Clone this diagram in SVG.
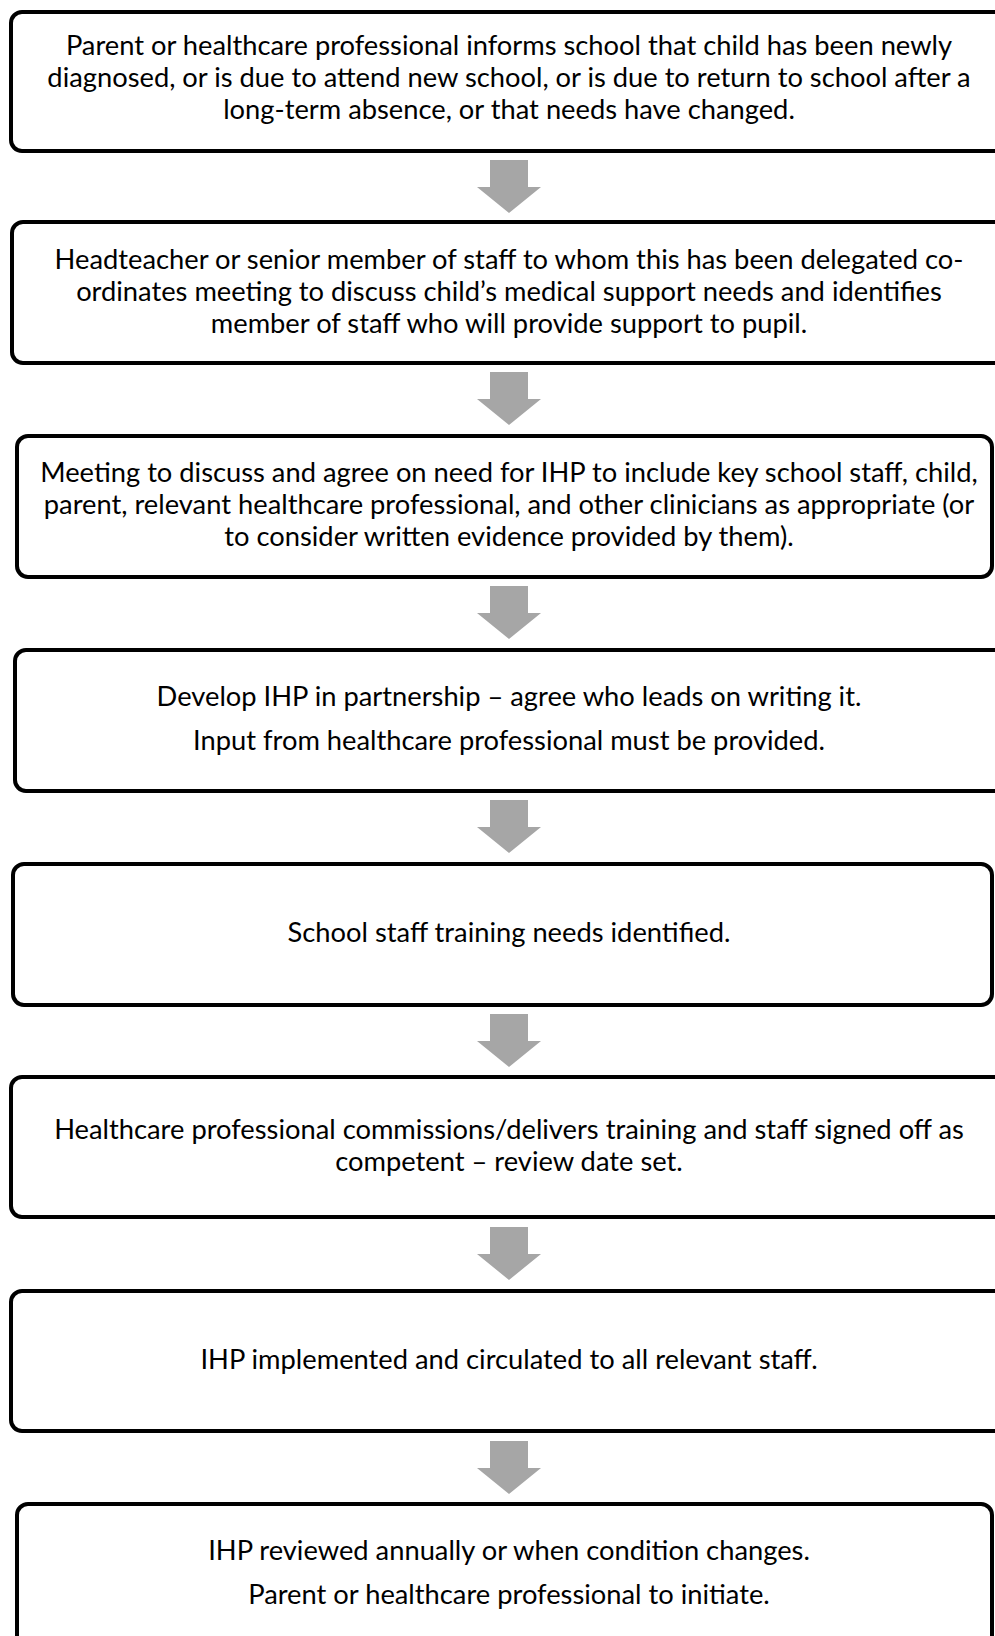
<svg xmlns="http://www.w3.org/2000/svg" width="995" height="1636" viewBox="0 0 995 1636">
<style>
.box{fill:#fff;stroke:#000;stroke-width:4}
.t{font-family:Lato,"Open Sans","Liberation Sans",sans-serif;font-size:27.3px;fill:#000;text-anchor:middle}
.arr{fill:#a6a6a6}
</style>
<defs>
<path id="arrow" d="M490,0 H528 V27 H541 L509,53 L477,27 H490 Z"/>
</defs>
<rect width="995" height="1636" fill="#fff"/>
<g id="connectors">
<use href="#arrow" class="arr" transform="translate(0,160)"/>
<use href="#arrow" class="arr" transform="translate(0,372)"/>
<use href="#arrow" class="arr" transform="translate(0,586)"/>
<use href="#arrow" class="arr" transform="translate(0,800)"/>
<use href="#arrow" class="arr" transform="translate(0,1014)"/>
<use href="#arrow" class="arr" transform="translate(0,1227)"/>
<use href="#arrow" class="arr" transform="translate(0,1441)"/>
</g>
<g id="node1">
<rect class="box" x="11" y="12" width="1000" height="139" rx="11"/>
<text class="t" x="509" y="55">Parent or healthcare professional informs school that child has been newly</text>
<text class="t" x="509" y="87">diagnosed, or is due to attend new school, or is due to return to school after a</text>
<text class="t" x="509" y="119">long-term absence, or that needs have changed.</text>
</g>
<g id="node2">
<rect class="box" x="12" y="222" width="1000" height="141" rx="11"/>
<text class="t" x="509" y="269">Headteacher or senior member of staff to whom this has been delegated co-</text>
<text class="t" x="509" y="301">ordinates meeting to discuss child’s medical support needs and identifies</text>
<text class="t" x="509" y="333">member of staff who will provide support to pupil.</text>
</g>
<g id="node3">
<rect class="box" x="17" y="436" width="975" height="141" rx="11"/>
<text class="t" x="509" y="482">Meeting to discuss and agree on need for IHP to include key school staff, child,</text>
<text class="t" x="509" y="514">parent, relevant healthcare professional, and other clinicians as appropriate (or</text>
<text class="t" x="509" y="546">to consider written evidence provided by them).</text>
</g>
<g id="node4">
<rect class="box" x="15" y="650" width="1000" height="141" rx="11"/>
<text class="t" x="509" y="706">Develop IHP in partnership – agree who leads on writing it.</text>
<text class="t" x="509" y="750">Input from healthcare professional must be provided.</text>
</g>
<g id="node5">
<rect class="box" x="13" y="864" width="979" height="141" rx="11"/>
<text class="t" x="509" y="942">School staff training needs identified.</text>
</g>
<g id="node6">
<rect class="box" x="11" y="1077" width="1000" height="140" rx="11"/>
<text class="t" x="509" y="1139">Healthcare professional commissions/delivers training and staff signed off as</text>
<text class="t" x="509" y="1171">competent – review date set.</text>
</g>
<g id="node7">
<rect class="box" x="11" y="1291" width="1000" height="140" rx="11"/>
<text class="t" x="509" y="1369">IHP implemented and circulated to all relevant staff.</text>
</g>
<g id="node8">
<rect class="box" x="17" y="1504" width="975" height="150" rx="11"/>
<text class="t" x="509" y="1560">IHP reviewed annually or when condition changes.</text>
<text class="t" x="509" y="1604">Parent or healthcare professional to initiate.</text>
</g>
</svg>
